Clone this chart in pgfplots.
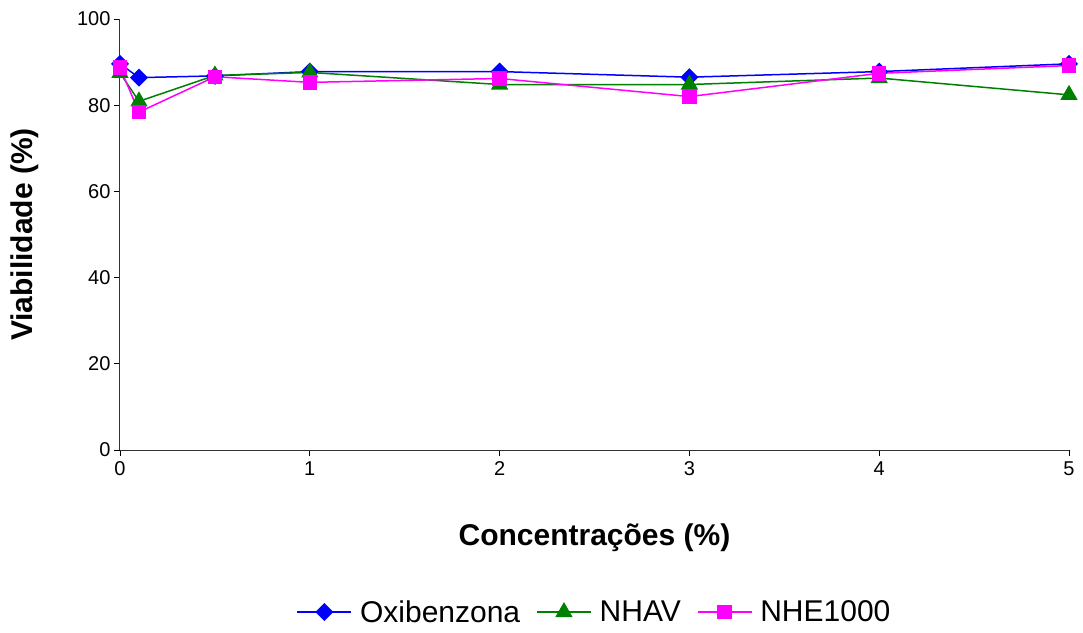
\documentclass[border=0pt]{standalone}
\usepackage{pgfplots}
\pgfplotsset{compat=1.18}
\usepackage{fontspec}
\setmainfont{Liberation Sans}
\definecolor{cblue}{RGB}{0,0,255}
\definecolor{cgreen}{RGB}{0,128,0}
\definecolor{cmag}{RGB}{255,0,255}
\begin{document}
\begin{tikzpicture}
\begin{axis}[
  width=949pt, height=431pt, scale only axis,
  xmin=0, xmax=5, ymin=0, ymax=100,
  xtick={0,1,2,3,4,5}, ytick={0,20,40,60,80,100},
  axis lines=left, axis line style={-, line width=1pt, black!60!gray},
  tick align=outside, major tick length=6pt,
  tick style={black, line width=0.8pt},
  /pgf/number format/assume math mode=true,
  tick label style={font=\fontsize{20}{24}\selectfont},
  xticklabel style={yshift=-2pt},
  xlabel={Concentrações (\%)},
  ylabel={Viabilidade (\%)},
  label style={font=\bfseries\fontsize{30}{34}\selectfont},
  xlabel style={at={(axis description cs:0.5,-0.204)}, anchor=center},
  ylabel style={at={(axis description cs:-0.1,0.5)}, anchor=center},
  legend columns=3,
  legend style={at={(axis description cs:0.5,-0.376)}, anchor=center, draw=none,
    font=\fontsize{30}{34}\selectfont,
    /tikz/every odd column/.append style={column sep=6pt},
    /tikz/every even column/.append style={column sep=14pt}},
  legend image code/.code={\draw[mark repeat=2,mark phase=2] plot coordinates {(0pt,0pt)(27pt,0pt)(54pt,0pt)};},
  clip=false,
]
\addplot[cblue, line width=1.5pt, mark=square*, mark size=5.6pt, mark options={solid, fill=cblue, rotate=45}] coordinates {
(0,89.6) (0.1,86.4) (0.5,86.8) (1,87.8) (2,87.8) (3,86.5) (4,87.8) (5,89.6)};
\addlegendentry{Oxibenzona}
\addplot[cgreen, line width=1.5pt, mark=triangle*, mark size=8.5pt, mark options={solid, fill=cgreen}] coordinates {
(0,87.5) (0.1,80.9) (0.5,86.9) (1,87.6) (2,84.8) (3,84.8) (4,86.3) (5,82.4)};
\addlegendentry{NHAV}
\addplot[cmag, line width=1.5pt, mark=square*, mark size=6.5pt, mark options={solid, fill=cmag}] coordinates {
(0,88.7) (0.1,78.4) (0.5,86.6) (1,85.3) (2,86.2) (3,82.0) (4,87.4) (5,89.2)};
\addlegendentry{NHE1000}
\coordinate (sw) at (rel axis cs:0,0);
\end{axis}
\pgfresetboundingbox
\path (sw) ++(-120pt,-182pt) rectangle ++(1083pt,632pt);
\end{tikzpicture}
\end{document}
